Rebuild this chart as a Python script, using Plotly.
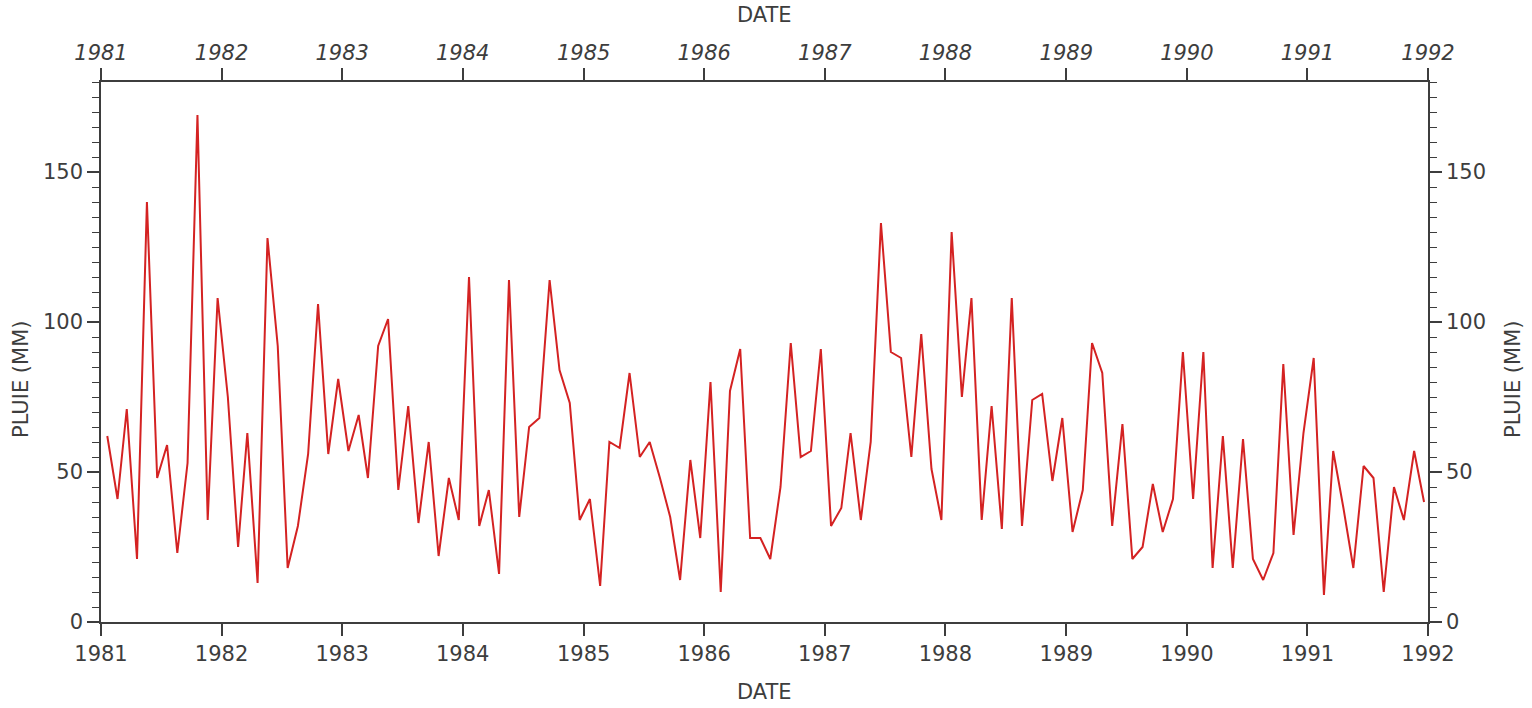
import pandas as pd
import plotly.graph_objects as go

# Monthly rainfall (mm), January 1981 - December 1991
rain_1981 = [62, 41, 71, 21, 140, 48, 59, 23, 53, 169, 34, 108]
rain_1982 = [75, 25, 63, 13, 128, 92, 18, 32, 56, 106, 56, 81]
rain_1983 = [57, 69, 48, 92, 101, 44, 72, 33, 60, 22, 48, 34]
rain_1984 = [115, 32, 44, 16, 114, 35, 65, 68, 114, 84, 73, 34]
rain_1985 = [41, 12, 60, 58, 83, 55, 60, 48, 35, 14, 54, 28]
rain_1986 = [80, 10, 77, 91, 28, 28, 21, 45, 93, 55, 57, 91]
rain_1987 = [32, 38, 63, 34, 60, 133, 90, 88, 55, 96, 51, 34]
rain_1988 = [130, 75, 108, 34, 72, 31, 108, 32, 74, 76, 47, 68]
rain_1989 = [30, 44, 93, 83, 32, 66, 21, 25, 46, 30, 41, 90]
rain_1990 = [41, 90, 18, 62, 18, 61, 21, 14, 23, 86, 29, 63]
rain_1991 = [88, 9, 57, 38, 18, 52, 48, 10, 45, 34, 57, 40]

years = list(range(1981, 1993))
year_labels = [str(y) for y in years]

rain = (rain_1981 + rain_1982 + rain_1983 + rain_1984 + rain_1985 + rain_1986
        + rain_1987 + rain_1988 + rain_1989 + rain_1990 + rain_1991)
dates = pd.date_range("1981-01-01", periods=len(rain), freq="MS") + pd.Timedelta(days=19)

W, H = 1532, 708
L, R, T, B = 101, 104, 82, 86
PW, PH = W - L - R, H - T - B

def px_x(x):
    return (x - L) / PW

def px_y(y):
    return (H - B - y) / PH

ink = "#3d3d3d"
font_family = "DejaVu Sans"
fsize = 21
x_range = ["1981-01-01", "1992-01-01"]
tick_dates = [f"{y}-01-01" for y in years]

fig = go.Figure()
fig.add_trace(go.Scatter(
    x=dates, y=rain, mode="lines",
    line=dict(color="#d42222", width=2),
    showlegend=False, hoverinfo="x+y",
))
# companion trace so the top and right axes are drawn
fig.add_trace(go.Scatter(
    x=dates, y=rain, mode="lines", xaxis="x2", yaxis="y2",
    line=dict(color="rgba(0,0,0,0)", width=0),
    showlegend=False, hoverinfo="skip",
))

x_common = dict(
    type="date", range=x_range, tickvals=tick_dates, ticktext=year_labels,
    showgrid=False, zeroline=False, showline=True, linecolor=ink, linewidth=1.5,
    ticks="outside", ticklen=12, tickwidth=1.5, tickcolor=ink,
)
y_common = dict(
    range=[0, 180], tickvals=[0, 50, 100, 150], ticktext=["0", "50", "100", "150"],
    showgrid=False, zeroline=False, showline=True, linecolor=ink, linewidth=1.5,
    ticks="outside", ticklen=12, tickwidth=1.5, tickcolor=ink,
    minor=dict(tick0=0, dtick=5, ticks="outside", ticklen=7, tickwidth=1.2,
               tickcolor=ink, showgrid=False),
    tickfont=dict(family=font_family, size=fsize, color=ink),
)

fig.update_layout(
    width=W, height=H,
    margin=dict(l=L, r=R, t=T, b=B),
    paper_bgcolor="white", plot_bgcolor="white",
    xaxis=dict(**x_common, side="bottom", anchor="y",
               tickfont=dict(family=font_family, size=fsize, color=ink)),
    xaxis2=dict(**x_common, side="top", anchor="y", overlaying="x",
                tickfont=dict(family=font_family, size=fsize, color=ink, style="italic")),
    yaxis=dict(**y_common, side="left", anchor="x"),
    yaxis2=dict(**y_common, side="right", anchor="x", overlaying="y"),
    annotations=[
        dict(text="DATE", xref="paper", yref="paper", x=px_x(764.5), y=px_y(692),
             showarrow=False, xanchor="center", yanchor="middle",
             font=dict(family=font_family, size=fsize, color=ink)),
        dict(text="DATE", xref="paper", yref="paper", x=px_x(764.5), y=px_y(15),
             showarrow=False, xanchor="center", yanchor="middle",
             font=dict(family=font_family, size=fsize, color=ink)),
        dict(text="PLUIE (MM)", xref="paper", yref="paper", x=px_x(21), y=px_y(380),
             showarrow=False, xanchor="center", yanchor="middle", textangle=-90,
             font=dict(family=font_family, size=fsize, color=ink)),
        dict(text="PLUIE (MM)", xref="paper", yref="paper", x=px_x(1513), y=px_y(380),
             showarrow=False, xanchor="center", yanchor="middle", textangle=-90,
             font=dict(family=font_family, size=fsize, color=ink)),
    ],
)

fig.write_html("out.html")
